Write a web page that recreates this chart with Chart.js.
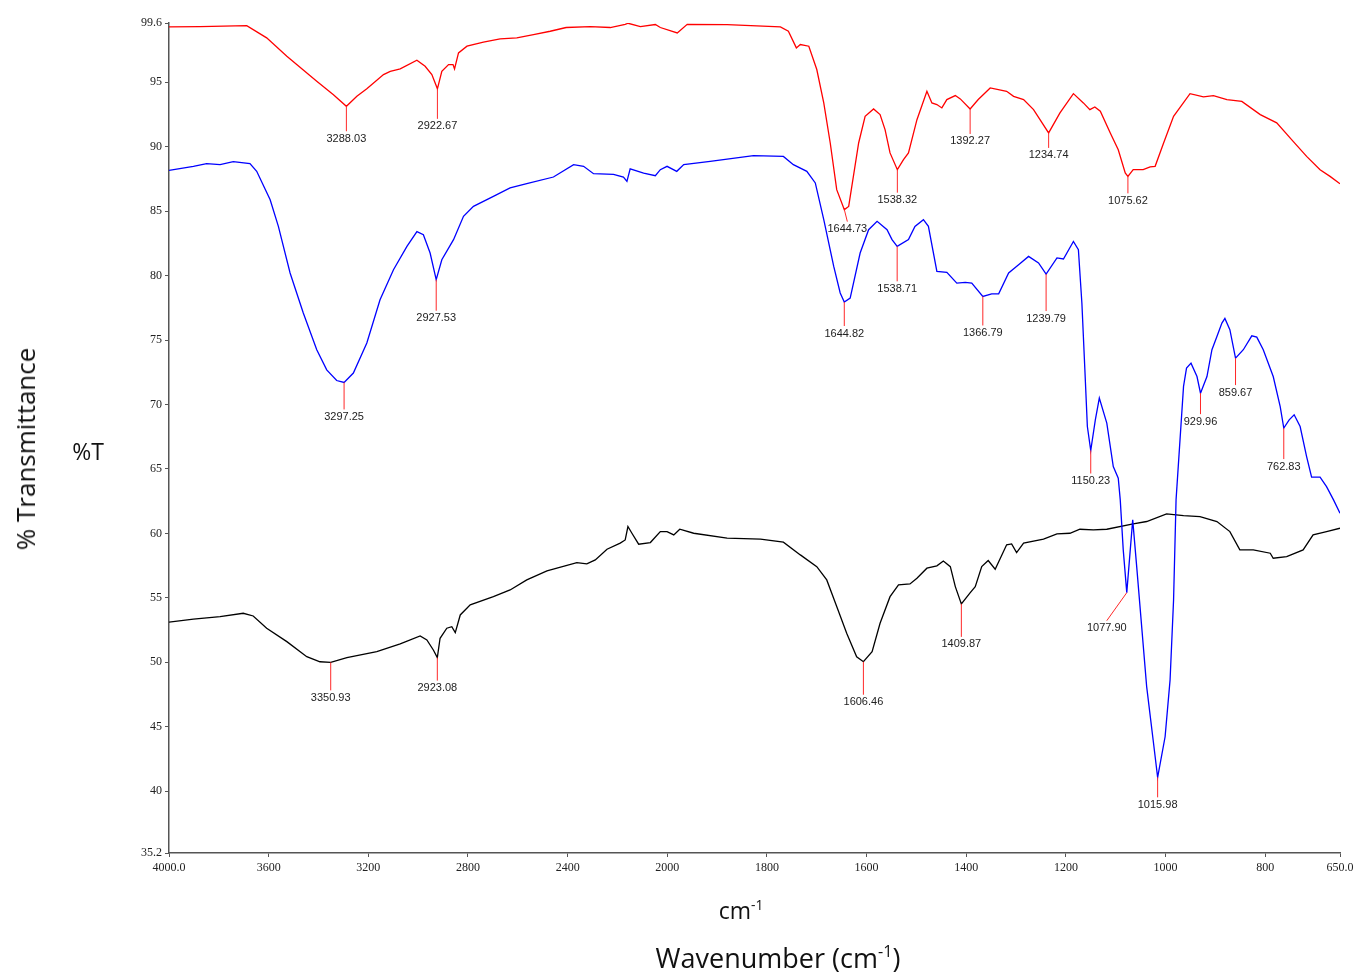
<!DOCTYPE html>
<html>
<head>
<meta charset="utf-8">
<title>FTIR spectra</title>
<script src="https://cdn.jsdelivr.net/npm/chart.js@4.4.1/dist/chart.umd.min.js"></script>
<style>
  html, body { margin: 0; padding: 0; background: #fff; }
  #wrap { position: relative; width: 1354px; height: 973px; }
  .title {
    position: absolute;
    font-family: "Open Sans", "Noto Sans", sans-serif;
    color: #111;
    white-space: nowrap;
    transform: translate(-50%, -50%);
    line-height: 1;
  }
  .title sup { font-size: 0.6em; vertical-align: 0.7em; }
  #yTitle { left: 25px; top: 449px; font-size: 26px; transform: translate(-50%, -50%) rotate(-90deg); }
  #yUnit { left: 88px; top: 451px; font-size: 23px; }
  #xUnit { left: 741px; top: 910px; font-size: 23px; }
  #xTitle { left: 778px; top: 957px; font-size: 27px; }
</style>
</head>
<body>
<div id="wrap">
  <canvas id="ftir" width="1354" height="973"></canvas>
  <div class="title" id="yTitle">% Transmittance</div>
  <div class="title" id="yUnit">%T</div>
  <div class="title" id="xUnit">cm<sup>-1</sup></div>
  <div class="title" id="xTitle">Wavenumber (cm<sup>-1</sup>)</div>
</div>
<script>
(function () {
  'use strict';

  // Wavenumber (cm-1), %T pairs
  var RED_SPECTRUM = [
    [4000, 99.30], [3875, 99.32], [3688, 99.40], [3608, 98.45], [3527, 97.02], [3407, 95.08],
    [3340, 94.04], [3288.03, 93.14], [3246, 93.91], [3206, 94.49], [3139, 95.60], [3112, 95.85],
    [3072, 96.04], [3005, 96.71], [2972, 96.24], [2945, 95.60], [2922.67, 94.49], [2905, 95.85],
    [2878, 96.37], [2860, 96.37], [2854, 96.04], [2838, 97.28], [2804, 97.80], [2738, 98.11],
    [2671, 98.37], [2604, 98.45], [2537, 98.70], [2470, 98.96], [2406, 99.25], [2309, 99.32],
    [2229, 99.25], [2169, 99.50], [2157, 99.58], [2108, 99.32], [2048, 99.48], [2028, 99.25],
    [1980, 98.83], [1960, 99.50], [1880, 99.48], [1773, 99.30], [1757, 98.96], [1741, 97.67],
    [1733, 97.93], [1716, 97.80], [1700, 95.99], [1686, 93.40], [1673, 90.29], [1660, 86.67],
    [1644.73, 85.12], [1636, 85.37], [1616, 90.29], [1603, 92.36], [1586, 92.93], [1573, 92.49],
    [1563, 91.33], [1553, 89.52], [1538.32, 88.22], [1526, 89.00], [1516, 89.52], [1499, 92.10],
    [1479, 94.30], [1469, 93.40], [1459, 93.27], [1449, 93.01], [1439, 93.66], [1422, 93.97],
    [1412, 93.71], [1392.27, 92.93], [1376, 93.66], [1352, 94.56], [1319, 94.30], [1305, 93.91],
    [1285, 93.66], [1265, 92.88], [1234.74, 91.07], [1212, 92.62], [1185, 94.12], [1165, 93.40],
    [1152, 92.88], [1142, 93.09], [1131, 92.75], [1111, 91.07], [1095, 89.77], [1081, 87.96],
    [1075.62, 87.70], [1065, 88.22], [1045, 88.22], [1031, 88.43], [1021, 88.48], [1004, 90.29],
    [984, 92.36], [951, 94.12], [924, 93.87], [904, 93.97], [877, 93.66], [847, 93.52],
    [810, 92.49], [777, 91.85], [744, 90.42], [717, 89.25], [690, 88.22], [670, 87.70], [650, 87.13]
  ];

  var BLUE_SPECTRUM = [
    [4000, 88.17], [3902, 88.48], [3849, 88.69], [3795, 88.61], [3742, 88.84], [3675, 88.69],
    [3648, 88.09], [3594, 85.89], [3561, 83.82], [3514, 80.20], [3461, 77.10], [3407, 74.25],
    [3367, 72.69], [3327, 71.86], [3297.25, 71.71], [3260, 72.44], [3206, 74.77], [3153, 78.13],
    [3099, 80.46], [3045, 82.27], [3005, 83.41], [2979, 83.17], [2952, 81.75], [2927.53, 79.68],
    [2905, 81.23], [2858, 82.79], [2818, 84.60], [2778, 85.37], [2698, 86.15], [2631, 86.80],
    [2564, 87.13], [2457, 87.65], [2376, 88.61], [2336, 88.48], [2296, 87.91], [2216, 87.86],
    [2176, 87.65], [2162, 87.31], [2149, 88.28], [2095, 87.96], [2048, 87.75], [2028, 88.22],
    [2001, 88.48], [1981, 88.09], [1967, 88.61], [1914, 88.87], [1827, 89.31], [1767, 89.25],
    [1747, 88.61], [1720, 88.09], [1703, 87.19], [1686, 84.34], [1666, 80.71], [1653, 78.65],
    [1644.82, 77.95], [1633, 78.26], [1613, 81.75], [1596, 83.56], [1579, 84.21], [1559, 83.56],
    [1549, 82.79], [1538.71, 82.27], [1516, 82.79], [1503, 83.82], [1486, 84.34], [1476, 83.82],
    [1459, 80.33], [1439, 80.25], [1419, 79.42], [1402, 79.47], [1389, 79.42], [1366.79, 78.38],
    [1349, 78.59], [1335, 78.59], [1315, 80.20], [1295, 80.85], [1275, 81.49], [1255, 80.98],
    [1239.79, 80.12], [1218, 81.37], [1205, 81.29], [1185, 82.65], [1175, 82.01], [1168, 77.87],
    [1162, 72.69], [1157, 68.29], [1150.23, 66.43], [1141, 68.81], [1133, 70.50], [1118, 68.56],
    [1105, 65.19], [1095, 64.28], [1091, 62.60], [1085, 58.72], [1077.90, 55.40], [1066, 61.05],
    [1058, 57.42], [1038, 48.11], [1025, 43.97], [1015.98, 41.07], [1001, 44.22], [991, 48.63],
    [984, 54.83], [979, 62.60], [964, 71.40], [958, 72.82], [949, 73.21], [937, 72.17],
    [929.96, 70.88], [917, 72.17], [907, 74.25], [897, 75.28], [887, 76.32], [881, 76.68],
    [871, 75.80], [859.67, 73.60], [844, 74.25], [827, 75.33], [817, 75.23], [804, 74.25],
    [784, 72.17], [770, 69.84], [762.83, 68.17], [752, 68.81], [742, 69.20], [730, 68.29],
    [717, 65.96], [707, 64.36], [690, 64.36], [677, 63.63], [663, 62.60], [650, 61.57]
  ];

  var BLACK_SPECTRUM = [
    [4000, 53.11], [3902, 53.34], [3795, 53.54], [3702, 53.80], [3662, 53.59], [3608, 52.64],
    [3527, 51.60], [3447, 50.43], [3394, 50.04], [3350.93, 49.99], [3286, 50.36], [3166, 50.82],
    [3072, 51.42], [2992, 52.04], [2965, 51.73], [2939, 50.95], [2923.08, 50.36], [2912, 51.86],
    [2885, 52.64], [2865, 52.76], [2851, 52.30], [2831, 53.67], [2791, 54.45], [2698, 55.09],
    [2631, 55.61], [2564, 56.39], [2483, 57.09], [2363, 57.73], [2323, 57.63], [2289, 57.94],
    [2242, 58.77], [2189, 59.24], [2169, 59.49], [2158, 60.53], [2142, 60.01], [2115, 59.16],
    [2068, 59.29], [2028, 60.14], [2001, 60.14], [1987, 59.88], [1975, 60.32], [1947, 60.01],
    [1880, 59.63], [1813, 59.55], [1767, 59.32], [1733, 58.33], [1700, 57.42], [1680, 56.39],
    [1660, 54.32], [1640, 52.25], [1620, 50.43], [1606.46, 50.04], [1589, 50.82], [1573, 53.03],
    [1553, 55.09], [1536, 56.00], [1513, 56.08], [1499, 56.52], [1479, 57.30], [1459, 57.48],
    [1446, 57.86], [1432, 57.42], [1422, 55.87], [1409.87, 54.53], [1392, 55.40], [1382, 55.87],
    [1369, 57.42], [1356, 57.89], [1342, 57.22], [1319, 59.11], [1309, 59.18], [1299, 58.51],
    [1285, 59.24], [1245, 59.55], [1218, 59.96], [1192, 60.01], [1172, 60.32], [1145, 60.27],
    [1118, 60.32], [1065, 60.74], [1038, 60.92], [998, 61.51], [964, 61.38], [931, 61.30],
    [897, 60.92], [871, 60.14], [851, 58.72], [824, 58.72], [790, 58.46], [784, 58.07],
    [757, 58.20], [724, 58.72], [704, 59.88], [677, 60.14], [650, 60.40]
  ];

  var RED_PEAKS = [3288.03, 2922.67, 1644.73, 1538.32, 1392.27, 1234.74, 1075.62];
  var BLUE_PEAKS = [3297.25, 2927.53, 1644.82, 1538.71, 1366.79, 1239.79, 1150.23, 1077.90, 1015.98, 929.96, 859.67, 762.83];
  var BLACK_PEAKS = [3350.93, 2923.08, 1606.46, 1409.87];

  var X_TICKS = [4000, 3600, 3200, 2800, 2400, 2000, 1800, 1600, 1400, 1200, 1000, 800, 650];
  var Y_TICKS = [99.6, 95, 90, 85, 80, 75, 70, 65, 60, 55, 50, 45, 40, 35.2];

  var X_MAX = 4000, X_BREAK = 2000, X_MIN = 650;
  var Y_MIN = 35.2, Y_MAX = 99.6;

  // leader line offsets (px) for the peak markers: [dx, dy]
  var LEADERS = {
    '3288.03': [0, 25], '2922.67': [0, 30], '1644.73': [3, 12], '1538.32': [0, 23],
    '1392.27': [0, 25], '1234.74': [0, 15], '1075.62': [0, 17],
    '3297.25': [0, 27], '2927.53': [0, 31], '1644.82': [0, 24], '1538.71': [0, 35],
    '1366.79': [0, 29], '1239.79': [0, 37], '1150.23': [0, 23], '1077.90': [-20, 28],
    '1015.98': [0, 20], '929.96': [0, 21], '859.67': [0, 27], '762.83': [0, 31],
    '3350.93': [0, 28], '2923.08': [0, 23], '1606.46': [0, 33], '1409.87': [0, 33]
  };

  var SERIF = '"Liberation Serif", "Times New Roman", serif';
  var AXIS_COLOR = '#555';

  // FTIR x axis: 4000-2000 drawn at half the scale of 2000-650
  class FtirScale extends Chart.LinearScale {
    decimalFor(v) {
      var hi = (X_MAX - X_BREAK) / 2;
      var total = hi + (X_BREAK - X_MIN);
      if (v >= X_BREAK) return (X_MAX - v) / 2 / total;
      return (hi + X_BREAK - v) / total;
    }
    getPixelForValue(v) {
      if (v === null || v === undefined) return NaN;
      return this.getPixelForDecimal(this.decimalFor(v));
    }
    getValueForPixel(px) {
      var d = this.getDecimalForPixel(px);
      var hi = (X_MAX - X_BREAK) / 2;
      var total = hi + (X_BREAK - X_MIN);
      var u = d * total;
      if (u <= hi) return X_MAX - u * 2;
      return X_BREAK - (u - hi);
    }
  }
  FtirScale.id = 'ftir';
  FtirScale.defaults = Chart.LinearScale.defaults;
  Chart.register(FtirScale);

  function toPoints(spectrum) {
    return spectrum.map(function (p) { return { x: p[0], y: p[1] }; });
  }

  function lineSet(label, spectrum, color) {
    return {
      label: label,
      data: toPoints(spectrum),
      borderColor: color,
      borderWidth: 1.3,
      pointRadius: 0,
      fill: false,
      tension: 0
    };
  }

  var PEAK_SETS = [
    { spectrum: RED_SPECTRUM, peaks: RED_PEAKS },
    { spectrum: BLUE_SPECTRUM, peaks: BLUE_PEAKS },
    { spectrum: BLACK_SPECTRUM, peaks: BLACK_PEAKS }
  ];

  var peakLabels = {
    id: 'peakLabels',
    afterDatasetsDraw: function (chart) {
      var ctx = chart.ctx;
      var xs = chart.scales.x, ys = chart.scales.y;
      ctx.save();
      ctx.font = '11px "Liberation Sans", Arial, sans-serif';
      ctx.textAlign = 'center';
      ctx.textBaseline = 'top';
      PEAK_SETS.forEach(function (set) {
        set.peaks.forEach(function (wn) {
          var pt = set.spectrum.find(function (p) { return p[0] === wn; });
          if (!pt) return;
          var label = wn.toFixed(2);
          var lead = LEADERS[label] || [0, 27];
          var x0 = xs.getPixelForValue(wn);
          var y0 = ys.getPixelForValue(pt[1]);
          var x1 = x0 + lead[0], y1 = y0 + lead[1];
          ctx.strokeStyle = 'rgb(255, 40, 40)';
          ctx.lineWidth = 1;
          ctx.beginPath();
          ctx.moveTo(x0, y0);
          ctx.lineTo(x1, y1);
          ctx.stroke();
          ctx.fillStyle = '#222';
          ctx.fillText(label, x1, y1 + 2);
        });
      });
      ctx.restore();
    }
  };

  new Chart(document.getElementById('ftir').getContext('2d'), {
    type: 'line',
    data: {
      datasets: [
        lineSet('Red', RED_SPECTRUM, 'rgb(255, 0, 0)'),
        lineSet('Blue', BLUE_SPECTRUM, 'rgb(0, 0, 255)'),
        lineSet('Black', BLACK_SPECTRUM, 'rgb(0, 0, 0)')
      ]
    },
    options: {
      responsive: false,
      animation: false,
      layout: { padding: { left: 0, top: 23, right: 14, bottom: 0 } },
      plugins: {
        legend: { display: false },
        tooltip: { enabled: false }
      },
      scales: {
        x: {
          type: 'ftir',
          min: X_MIN,
          max: X_MAX,
          afterBuildTicks: function (axis) {
            axis.ticks = X_TICKS.map(function (v) { return { value: v }; });
          },
          afterFit: function (axis) {
            axis.height = 120;
            axis.paddingLeft = 0;
            axis.paddingRight = 0;
          },
          border: { display: true, color: AXIS_COLOR, width: 1.5 },
          grid: { display: true, drawOnChartArea: false, drawTicks: true, tickLength: 4, color: AXIS_COLOR },
          ticks: {
            autoSkip: false,
            maxRotation: 0,
            padding: 4,
            color: '#222',
            font: { family: SERIF, size: 12 },
            callback: function (v) {
              return (v === X_MAX || v === X_MIN) ? v.toFixed(1) : String(v);
            }
          }
        },
        y: {
          type: 'linear',
          min: Y_MIN,
          max: Y_MAX,
          afterBuildTicks: function (axis) {
            axis.ticks = Y_TICKS.map(function (v) { return { value: v }; });
          },
          afterFit: function (axis) {
            axis.width = 169;
            axis.paddingTop = 0;
            axis.paddingBottom = 0;
          },
          border: { display: true, color: AXIS_COLOR, width: 1.5 },
          grid: { display: true, drawOnChartArea: false, drawTicks: true, tickLength: 4, color: AXIS_COLOR },
          ticks: {
            autoSkip: false,
            padding: 3,
            color: '#222',
            font: { family: SERIF, size: 12 },
            callback: function (v) { return String(v); }
          }
        }
      }
    },
    plugins: [peakLabels]
  });
})();
</script>
</body>
</html>
